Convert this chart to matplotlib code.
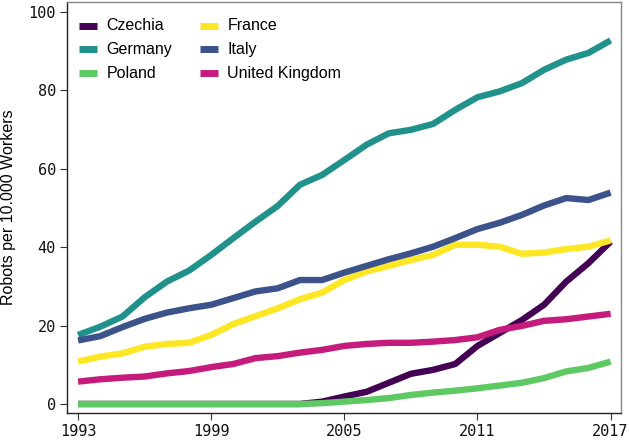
import matplotlib
matplotlib.use("Agg")
from matplotlib import pyplot as plt

years = list(range(1993, 2018))

czechia = [0, 0, 0, 0, 0, 0, 0, 0, 0, 0, 0, 0.6, 1.9, 3.1, 5.4, 7.7, 8.7, 10.2,
           14.8, 18.1, 21.4, 25.3, 31.2, 35.9, 41.4]
germany = [17.6, 19.7, 22.3, 27.2, 31.2, 34.0, 38.0, 42.3, 46.5, 50.5, 55.9, 58.4,
           62.2, 66.1, 69.0, 69.9, 71.4, 75.0, 78.2, 79.7, 81.8, 85.2, 87.8, 89.5, 92.7]
poland = [0, 0, 0, 0, 0, 0, 0, 0, 0, 0, 0, 0.2, 0.6, 1.0, 1.5, 2.3, 2.9, 3.4,
          4.0, 4.7, 5.4, 6.6, 8.3, 9.2, 10.8]
france = [10.8, 12.1, 12.9, 14.6, 15.3, 15.6, 17.6, 20.4, 22.4, 24.4, 26.7, 28.4,
          31.6, 33.8, 35.2, 36.7, 38.0, 40.6, 40.6, 40.1, 38.3, 38.6, 39.5, 40.1, 41.7]
italy = [16.2, 17.3, 19.6, 21.7, 23.3, 24.4, 25.3, 27.0, 28.7, 29.5, 31.6, 31.6,
         33.5, 35.2, 36.9, 38.4, 40.1, 42.3, 44.6, 46.2, 48.2, 50.6, 52.5, 52.0, 53.9]
uk = [5.7, 6.3, 6.7, 7.0, 7.8, 8.4, 9.4, 10.2, 11.7, 12.2, 13.1, 13.8, 14.8, 15.3,
      15.6, 15.6, 15.9, 16.3, 17.0, 18.9, 19.9, 21.2, 21.6, 22.3, 23.0]

series = [
    ("Czechia", czechia, "#440154"),
    ("Germany", germany, "#21918c"),
    ("Poland", poland, "#5ec962"),
    ("France", france, "#fde725"),
    ("Italy", italy, "#3b528b"),
    ("United Kingdom", uk, "#c51b7d"),
]

fig = plt.figure(figsize=(6.29, 4.42), dpi=100)
ax = fig.add_axes([0.1065, 0.0656, 0.8805, 0.93])

for name, vals, col in series:
    ax.plot(years, vals, color=col, lw=4.6, label=name, solid_capstyle="butt")

ax.set_xlim(1992.5, 2017.46)
ax.set_ylim(-2.3, 102.5)
ax.set_xticks([1993, 1999, 2005, 2011, 2017])
ax.set_yticks([0, 20, 40, 60, 80, 100])
ax.tick_params(length=5, width=0.8, color="#333333", labelsize=11, pad=3)
for lab in ax.get_xticklabels() + ax.get_yticklabels():
    lab.set_family("DejaVu Sans Mono")
    lab.set_color("#111111")
ax.set_ylabel("Robots per 10.000 Workers", fontsize=11.5, family="Liberation Sans")
ax.yaxis.set_label_coords(-0.092, 0.5)

for s in ["left", "bottom"]:
    ax.spines[s].set_color("#222222")
    ax.spines[s].set_linewidth(1.0)
for s in ["top", "right"]:
    ax.spines[s].set_color("#888888")
    ax.spines[s].set_linewidth(1.0)

leg = ax.legend(ncol=2, loc="upper left", frameon=False,
                bbox_to_anchor=(-0.002, 0.993),
                prop={"family": "Liberation Sans", "size": 11.5},
                handlelength=1.1, handleheight=0.4, handletextpad=0.6,
                columnspacing=1.75, labelspacing=0.54, borderaxespad=0.45)
for h in leg.get_lines():
    h.set_linewidth(5)

fig.savefig("out.png", dpi=100)
